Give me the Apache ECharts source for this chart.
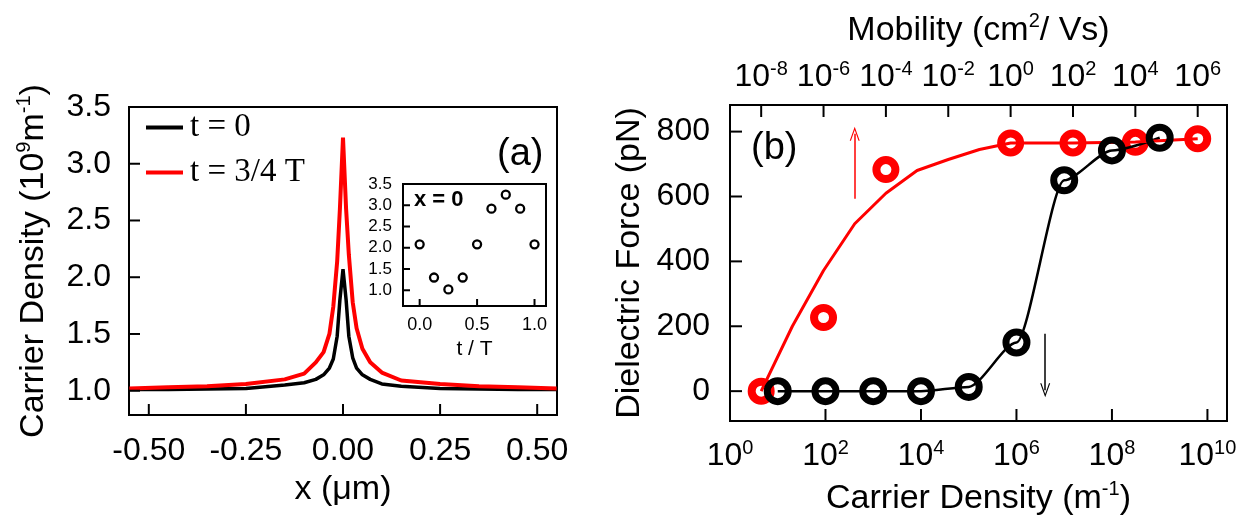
<!DOCTYPE html>
<html>
<head>
<meta charset="utf-8">
<script src="https://cdn.jsdelivr.net/npm/echarts@6/dist/echarts.min.js"></script>
<style>
html, body { margin: 0; background: #fff; }
#main { width: 1250px; height: 525px; }
</style>
</head>
<body>
<div id="main"></div>
<script>
// (a) carrier density along x, two times
var xPos = [-0.55, -0.45, -0.35, -0.25, -0.15, -0.10, -0.07, -0.05, -0.035, -0.025, -0.015, -0.008, 0,
            0.008, 0.015, 0.025, 0.035, 0.05, 0.07, 0.10, 0.15, 0.25, 0.35, 0.45, 0.55];
var densT0 = [1.01, 1.01, 1.015, 1.02, 1.05, 1.07, 1.10, 1.14, 1.20, 1.28, 1.48, 1.80, 2.07,
              1.80, 1.48, 1.29, 1.20, 1.14, 1.10, 1.06, 1.04, 1.02, 1.015, 1.01, 1.01];
var densT34 = [1.02, 1.03, 1.04, 1.06, 1.10, 1.15, 1.25, 1.34, 1.50, 1.74, 2.14, 2.60, 3.23,
               2.60, 2.20, 1.78, 1.55, 1.37, 1.25, 1.16, 1.09, 1.06, 1.04, 1.03, 1.02];
var xTicks = [-0.5, -0.25, 0, 0.25, 0.5];
var densTicks = [1.0, 1.5, 2.0, 2.5, 3.0, 3.5];

// inset: density at x = 0 over one period
var insetT = [0, 0.125, 0.25, 0.375, 0.5, 0.625, 0.75, 0.875, 1.0];
var insetDens = [2.08, 1.30, 1.02, 1.30, 2.08, 2.92, 3.25, 2.92, 2.08];
var insetTTicks = [0, 0.5, 1.0];

// (b) dielectric force
var carrier = [1e1, 1e2, 1e3, 1e4, 1e5, 1e6, 1e7, 1e8, 1e9];
var forceCarrier = [0, 0, 0, 0, 13, 150, 650, 742, 781];
var mobility = [1e-8, 1e-6, 1e-4, 1e0, 1e2, 1e4, 1e6];
var forceMobility = [0, 227, 683, 765, 765, 767, 778];
var fitMobility = [1e-8, 1e-7, 1e-6, 1e-5, 1e-4, 1e-3, 1e-2, 1e-1, 1e0, 1e2, 1e4, 1e6];
var fitForce = [0, 200, 372, 516, 610, 680, 714, 745, 765, 765, 768, 778];
var forceTicks = [0, 200, 400, 600, 800];
var carrierTicks = [1e0, 1e2, 1e4, 1e6, 1e8, 1e10];
var mobilityTicks = [1e-8, 1e-6, 1e-4, 1e-2, 1e0, 1e2, 1e4, 1e6];

// arrows: red points to the top (mobility) axis, black to the bottom one
var redArrow = [1e-5, 593, 793];
var blackArrow = [4e6, 177, 3];

// axis ranges
var xRangeA = [-0.551, 0.551];
var densRangeA = [0.786, 3.5];
var tRangeInset = [-0.145, 1.1];
var densRangeInset = [0.63, 3.5];
var carrierRange = [1, 2.57e10];
var mobilityRange = [1e-9, 8.7e6];
var forceRange = [-92, 882];

function pairs(xs, ys) {
    return xs.map(function (x, i) { return [x, ys[i]]; });
}

var FONT = 'Liberation Sans';
var supRich = {
    b: { fontFamily: FONT, fontSize: 32, lineHeight: 36, color: '#000' },
    s: { fontFamily: FONT, fontSize: 20, lineHeight: 20, verticalAlign: 'top', color: '#000' }
};
var nameSup = { s: { fontFamily: FONT, fontSize: 20, lineHeight: 22, verticalAlign: 'top', color: '#000' } };
function powLabel(v) {
    var e = Math.round(Math.log10(v));
    return '{b|10}{s|' + e + '}';
}
var arrowHead = 'path://M5,0 L10,13 L8.8,13 L5,3 L1.2,13 L0,13 Z';

function frameAxis(extra) {
    var base = {
        splitLine: { show: false },
        axisLine: { show: true, onZero: false, lineStyle: { color: '#000', width: 2 } },
        axisTick: { show: false },
        axisLabel: { color: '#000', fontFamily: FONT, fontSize: 32 },
        nameTextStyle: { color: '#000', fontFamily: FONT, fontSize: 34 }
    };
    for (var k in extra) {
        if (typeof extra[k] === 'object' && base[k] && !Array.isArray(extra[k])) {
            base[k] = Object.assign({}, base[k], extra[k]);
        } else {
            base[k] = extra[k];
        }
    }
    return base;
}

// inward tick marks: one short stroke per tick value, placed through the axes' own scales
function tickSeries(xIdx, yIdx, points, dir, len) {
    return {
        type: 'custom', xAxisIndex: xIdx, yAxisIndex: yIdx,
        silent: true, clip: false, z: 10,
        encode: { x: 0, y: 1 },
        data: points,
        renderItem: function (params, api) {
            var p = api.coord([api.value(0), api.value(1)]);
            var dx = dir === 'right' ? len : 0;
            var dy = dir === 'up' ? -len : (dir === 'down' ? len : 0);
            return {
                type: 'line',
                shape: { x1: p[0], y1: p[1], x2: p[0] + dx, y2: p[1] + dy },
                style: { stroke: '#000', lineWidth: 2 }
            };
        }
    };
}
function atY(values, y) { return values.map(function (v) { return [v, y]; }); }
function atX(values, x) { return values.map(function (v) { return [x, v]; }); }

var gridA = { left: 129, top: 107, width: 428, height: 308 };
var gridInset = { left: 403, top: 184, width: 143, height: 122 };
var gridB = { left: 730, top: 105, width: 497, height: 316 };

var chart = echarts.init(document.getElementById('main'));
chart.setOption({
    backgroundColor: '#fff',
    animation: false,
    grid: [
        Object.assign({ show: true, borderColor: '#000', borderWidth: 2 }, gridA),
        Object.assign({ show: true, borderColor: '#000', borderWidth: 2, backgroundColor: '#fff' }, gridInset),
        Object.assign({ show: true, borderColor: '#000', borderWidth: 2 }, gridB)
    ],
    legend: {
        data: ['t = 0', 't = 3/4 T'],
        orient: 'vertical',
        left: 146, top: 111,
        padding: 0, itemGap: 12,
        icon: 'rect', itemWidth: 37, itemHeight: 4,
        textStyle: { fontFamily: 'Liberation Serif', fontSize: 33, color: '#000', padding: [0, 0, 0, 2] }
    },
    xAxis: [
        frameAxis({
            type: 'value', gridIndex: 0, min: xRangeA[0], max: xRangeA[1],
            name: 'x (\u03bcm)', nameLocation: 'middle', nameGap: 58,
            axisLabel: { customValues: xTicks, margin: 20, formatter: function (v) { return v.toFixed(2); } }
        }),
        frameAxis({
            type: 'value', gridIndex: 1, min: tRangeInset[0], max: tRangeInset[1],
            name: 't / T', nameLocation: 'middle', nameGap: 33,
            nameTextStyle: { fontSize: 21 },
            axisLabel: { customValues: insetTTicks, margin: 10, fontSize: 18, formatter: function (v) { return v.toFixed(1); } }
        }),
        frameAxis({
            type: 'log', gridIndex: 2, min: carrierRange[0], max: carrierRange[1], position: 'bottom',
            name: 'Carrier Density (m{s|-1})', nameLocation: 'middle', nameGap: 58,
            nameTextStyle: { lineHeight: 40, rich: nameSup },
            axisLabel: { customValues: carrierTicks, margin: 17, formatter: powLabel, rich: supRich }
        }),
        frameAxis({
            type: 'log', gridIndex: 2, min: mobilityRange[0], max: mobilityRange[1], position: 'top',
            name: 'Mobility (cm{s|2}/ Vs)', nameLocation: 'middle', nameGap: 54,
            nameTextStyle: { lineHeight: 40, rich: nameSup },
            axisLabel: { customValues: mobilityTicks, margin: 10, formatter: powLabel, rich: supRich }
        })
    ],
    yAxis: [
        frameAxis({
            type: 'value', gridIndex: 0, min: densRangeA[0], max: densRangeA[1],
            name: 'Carrier Density (10{s|9}m{s|-1})', nameLocation: 'middle', nameGap: 75, nameRotate: 90,
            nameTextStyle: { lineHeight: 40, rich: nameSup },
            axisLabel: { customValues: densTicks, margin: 18, formatter: function (v) { return v.toFixed(1); } }
        }),
        frameAxis({
            type: 'value', gridIndex: 1, min: densRangeInset[0], max: densRangeInset[1],
            axisLabel: { customValues: densTicks, margin: 11, fontSize: 17, formatter: function (v) { return v.toFixed(1); } }
        }),
        frameAxis({
            type: 'value', gridIndex: 2, min: forceRange[0], max: forceRange[1],
            name: 'Dielectric Force (pN)', nameLocation: 'middle', nameGap: 83, nameRotate: 90,
            axisLabel: { customValues: forceTicks, margin: 20 }
        })
    ],
    graphic: [
        { type: 'text', left: 497, top: 136, style: { text: '(a)', fontFamily: FONT, fontSize: 38, fill: '#000' } },
        { type: 'text', left: 751, top: 130, style: { text: '(b)', fontFamily: FONT, fontSize: 38, fill: '#000' } },
        { type: 'text', left: 414, top: 189, style: { text: 'x = 0', fontFamily: FONT, fontSize: 22, fontWeight: 'bold', fill: '#000' } }
    ],
    series: [
        {
            name: 't = 0', type: 'line', xAxisIndex: 0, yAxisIndex: 0,
            data: pairs(xPos, densT0), symbol: 'none',
            itemStyle: { color: '#000' },
            lineStyle: { color: '#000', width: 3.5 }
        },
        {
            name: 't = 3/4 T', type: 'line', xAxisIndex: 0, yAxisIndex: 0,
            data: pairs(xPos, densT34), symbol: 'none',
            itemStyle: { color: '#ff0000' },
            lineStyle: { color: '#ff0000', width: 4 }
        },
        {
            name: 'inset', type: 'scatter', xAxisIndex: 1, yAxisIndex: 1,
            data: pairs(insetT, insetDens), symbol: 'circle', symbolSize: 8,
            itemStyle: { color: '#fff', borderColor: '#000', borderWidth: 2.3, opacity: 1 }
        },
        {
            name: 'carrier', type: 'line', xAxisIndex: 2, yAxisIndex: 2,
            data: pairs(carrier, forceCarrier),
            symbol: 'circle', symbolSize: 21, showAllSymbol: true,
            smooth: 0.25, smoothMonotone: 'x',
            itemStyle: { color: 'rgba(0,0,0,0)', borderColor: '#000', borderWidth: 7, opacity: 1 },
            lineStyle: { color: '#000', width: 2.5 },
            markLine: {
                silent: true, animation: false,
                symbol: ['none', arrowHead], symbolSize: [10, 14],
                label: { show: false },
                lineStyle: { color: '#000', width: 1.5, type: 'solid' },
                data: [[{ coord: [blackArrow[0], blackArrow[1]] }, { coord: [blackArrow[0], blackArrow[2]] }]]
            }
        },
        {
            name: 'fit', type: 'line', xAxisIndex: 3, yAxisIndex: 2,
            data: pairs(fitMobility, fitForce), symbol: 'none',
            lineStyle: { color: '#ff0000', width: 3 },
            markLine: {
                silent: true, animation: false,
                symbol: ['none', arrowHead], symbolSize: [10, 14],
                label: { show: false },
                lineStyle: { color: '#ff0000', width: 1.5, type: 'solid' },
                itemStyle: { color: '#ff0000' },
                data: [[{ coord: [redArrow[0], redArrow[1]] }, { coord: [redArrow[0], redArrow[2]] }]]
            }
        },
        {
            name: 'mobility', type: 'scatter', xAxisIndex: 3, yAxisIndex: 2,
            data: pairs(mobility, forceMobility), symbol: 'circle', symbolSize: 19,
            itemStyle: { color: 'rgba(0,0,0,0)', borderColor: '#ff0000', borderWidth: 8, opacity: 1 }
        },
        tickSeries(0, 0, atY(xTicks, densRangeA[0]), 'up', 11),
        tickSeries(0, 0, atX(densTicks, xRangeA[0]), 'right', 11),
        tickSeries(1, 1, atY(insetTTicks, densRangeInset[0]), 'up', 7),
        tickSeries(1, 1, atX(densTicks, tRangeInset[0]), 'right', 7),
        tickSeries(2, 2, atY(carrierTicks, forceRange[0]), 'up', 12),
        tickSeries(3, 2, atY(mobilityTicks, forceRange[1]), 'down', 12),
        tickSeries(2, 2, atX(forceTicks, carrierRange[0]), 'right', 12)
    ]
});
</script>
</body>
</html>
